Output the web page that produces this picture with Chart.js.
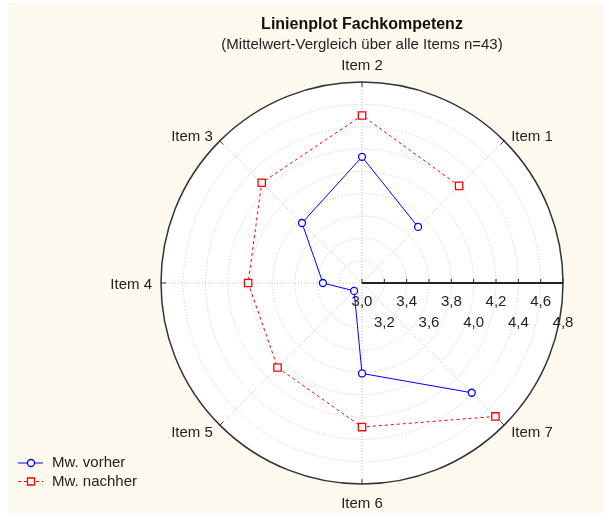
<!DOCTYPE html>
<html>
<head>
<meta charset="utf-8">
<script src="https://cdn.jsdelivr.net/npm/chart.js@4.4.1/dist/chart.umd.min.js"></script>
<style>
  html, body { margin: 0; padding: 0; background: #fff; }
  canvas { display: block; }
</style>
</head>
<body>
<canvas id="polar" width="604" height="513"></canvas>
<script>
const items = ['Item 1', 'Item 2', 'Item 3', 'Item 4', 'Item 5', 'Item 6', 'Item 7'];
const vorher = [3.71, 4.13, 3.76, 3.35, 3.10, 3.81, 4.39];
const nachher = [4.23, 4.50, 4.27, 4.02, 4.07, 4.29, 4.69];
const rTicks = [3.0, 3.2, 3.4, 3.6, 3.8, 4.0, 4.2, 4.4, 4.6, 4.8];
// spokes clockwise from the top; -1 is the empty spoke on the right that carries the value axis
const spokeOrder = [1, 0, -1, 6, 5, 4, 3, 2];

const FONT = "'Liberation Sans', Arial, sans-serif";
const spokeLabels = spokeOrder.map(i => i < 0 ? '' : items[i]);
const toSpokes = arr => spokeOrder.map(i => i < 0 ? null : arr[i]);
const fmt = v => v.toFixed(1).replace('.', ',');
const last = rTicks.length - 1;

const polarDeco = {
  id: 'polarDeco',
  beforeDraw(chart) {
    const ctx = chart.ctx, r = chart.scales.r;
    ctx.save();
    ctx.fillStyle = '#fdf9ef';
    ctx.fillRect(8, 3, chart.width - 8, chart.height - 3);
    ctx.fillStyle = '#fff';
    ctx.beginPath();
    ctx.arc(r.xCenter, r.yCenter, r.drawingArea, 0, Math.PI * 2);
    ctx.fill();
    ctx.restore();
  },
  beforeDatasetsDraw(chart) {
    const ctx = chart.ctx, r = chart.scales.r;
    const R = r.drawingArea;
    ctx.save();
    // small ticks on the outer ring
    ctx.strokeStyle = '#333';
    ctx.lineWidth = 1;
    spokeLabels.forEach((lab, i) => {
      if (!lab) return;
      const a = r.getPointPosition(i, R), b = r.getPointPosition(i, R - 5);
      ctx.beginPath(); ctx.moveTo(a.x, a.y); ctx.lineTo(b.x, b.y); ctx.stroke();
    });
    // value axis
    const axisIdx = spokeLabels.indexOf('');
    const end = r.getPointPosition(axisIdx, R);
    ctx.strokeStyle = '#222';
    ctx.lineWidth = 2;
    ctx.beginPath(); ctx.moveTo(r.xCenter, r.yCenter); ctx.lineTo(end.x, end.y); ctx.stroke();
    ctx.lineWidth = 1;
    ctx.font = '15px ' + FONT;
    ctx.fillStyle = '#222';
    ctx.textAlign = 'center';
    ctx.textBaseline = 'middle';
    rTicks.forEach((v, k) => {
      const p = r.getPointPosition(axisIdx, r.getDistanceFromCenterForValue(v));
      ctx.beginPath(); ctx.moveTo(p.x, p.y); ctx.lineTo(p.x, p.y - 4); ctx.stroke();
      ctx.fillText(fmt(v), p.x, p.y + (k % 2 ? 39.5 : 18.5));
    });
    // spoke labels
    spokeLabels.forEach((lab, i) => {
      if (!lab) return;
      const p = r.getPointPosition(i, R);
      const c = Math.cos(p.angle), s = Math.sin(p.angle);
      let x = p.x, y = p.y;
      if (Math.abs(c) < 0.1) {
        ctx.textAlign = 'center';
        y += s < 0 ? -16 : 20;
      } else {
        ctx.textAlign = c > 0 ? 'left' : 'right';
        x += (c > 0 ? 1 : -1) * (Math.abs(s) < 0.1 ? 9 : 7);
        y += s < -0.1 ? -4 : (s > 0.1 ? 8 : 2);
      }
      ctx.fillText(lab, x, y);
    });
    ctx.restore();
  },
  afterDraw(chart) {
    // legend, bottom left
    const ctx = chart.ctx;
    const rows = [463, 481.5];
    ctx.save();
    ctx.font = '15px ' + FONT;
    ctx.textAlign = 'left';
    ctx.textBaseline = 'middle';
    chart.data.datasets.forEach((ds, k) => {
      const y = rows[k];
      ctx.strokeStyle = ds.borderColor;
      ctx.lineWidth = 1;
      ctx.setLineDash(ds.borderDash || []);
      ctx.beginPath(); ctx.moveTo(18, y); ctx.lineTo(43, y); ctx.stroke();
      ctx.setLineDash([]);
      ctx.fillStyle = '#fff';
      ctx.lineWidth = 1.3;
      ctx.beginPath();
      if (ds.pointStyle === 'rect') ctx.rect(27.5, y - 3.5, 7, 7);
      else ctx.arc(31, y, 3.5, 0, Math.PI * 2);
      ctx.fill(); ctx.stroke();
      ctx.fillStyle = '#222';
      ctx.fillText(ds.label, 52, y);
    });
    ctx.restore();
  }
};

new Chart(document.getElementById('polar'), {
  type: 'radar',
  data: {
    labels: spokeLabels,
    datasets: [
      {
        label: 'Mw. vorher',
        data: toSpokes(vorher),
        borderColor: '#0000ff',
        borderWidth: 1,
        pointStyle: 'circle',
        pointRadius: 3.5,
        pointBorderWidth: 1.3,
        pointBorderColor: '#0000ff',
        pointBackgroundColor: '#fff',
        fill: false,
        spanGaps: false,
        tension: 0
      },
      {
        label: 'Mw. nachher',
        data: toSpokes(nachher),
        borderColor: '#ff0000',
        borderDash: [3, 3],
        borderWidth: 1,
        pointStyle: 'rect',
        pointRadius: 5.2,
        pointBorderWidth: 1.3,
        pointBorderColor: '#ff0000',
        pointBackgroundColor: '#fff',
        fill: false,
        spanGaps: false,
        tension: 0
      }
    ]
  },
  options: {
    responsive: false,
    animation: false,
    devicePixelRatio: 1,
    layout: { padding: { left: 120, right: 0, top: 0, bottom: 29 } },
    plugins: {
      legend: { display: false },
      tooltip: { enabled: false },
      title: {
        display: true,
        text: 'Linienplot Fachkompetenz',
        font: { family: FONT, size: 16, weight: 'bold' },
        color: '#111',
        padding: { top: 15.4, bottom: 0 }
      },
      subtitle: {
        display: true,
        text: '(Mittelwert-Vergleich über alle Items n=43)',
        font: { family: FONT, size: 15 },
        color: '#222',
        padding: { top: 1.4, bottom: 28 }
      }
    },
    scales: {
      r: {
        min: 3,
        max: 4.8,
        afterBuildTicks: s => { s.ticks = rTicks.map(v => ({ value: v })); },
        ticks: { display: false },
        pointLabels: { display: false },
        grid: {
          circular: true,
          color: c => c.index === last ? '#333' : '#c8c8c8',
          lineWidth: c => c.index === last ? 1.5 : 1
        },
        border: { dash: c => c.index === last ? [] : [1, 2] },
        angleLines: {
          color: c => spokeLabels[c.index] ? '#bdbdbd' : 'rgba(0,0,0,0)',
          borderDash: [1, 2],
          lineWidth: 1
        }
      }
    }
  },
  plugins: [polarDeco]
});
</script>
</body>
</html>
